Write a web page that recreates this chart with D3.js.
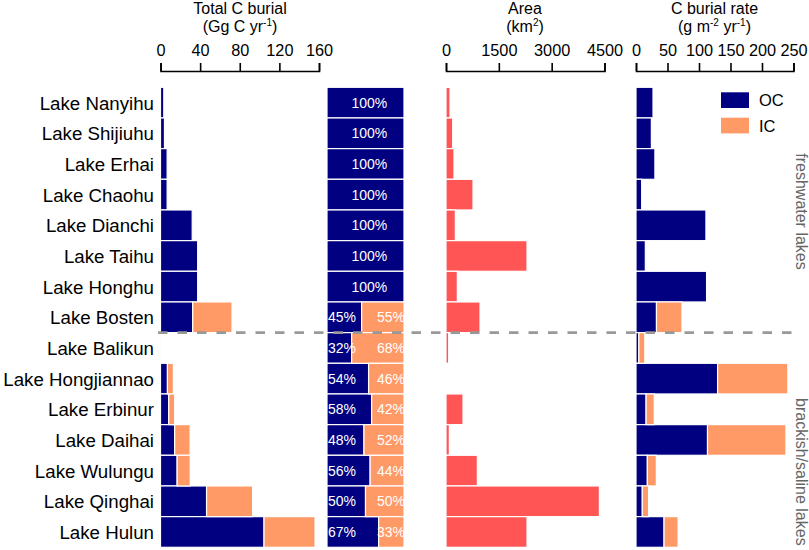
<!DOCTYPE html>
<html><head><meta charset="utf-8">
<script src="https://cdn.jsdelivr.net/npm/d3@7"></script>
<style>body{margin:0;background:#fff;} svg{display:block;font-family:Arial,"Liberation Sans",sans-serif;}</style>
</head><body><svg id="c" width="809" height="550"></svg>
<script>
const lakes = ["Lake Nanyihu","Lake Shijiuhu","Lake Erhai","Lake Chaohu","Lake Dianchi","Lake Taihu","Lake Honghu","Lake Bosten","Lake Balikun","Lake Hongjiannao","Lake Erbinur","Lake Daihai","Lake Wulungu","Lake Qinghai","Lake Hulun"];
const burialOC = [3.3,4,6.7,6.7,32,37.5,37.5,32.5,0.2,7,8.3,14.3,16.8,46.5,104.5];
const burialIC = [0,0,0,0,0,0,0,39.7,0.4,6,6,15.6,13.2,46.5,51.5];
const pctOC = [100,100,100,100,100,100,100,45,32,54,58,48,56,50,67];
const pctIC = [0,0,0,0,0,0,0,55,68,46,42,52,44,50,33];
const area = [114,190,227,767,265,2300,322,966,76,25,483,95,890,4355,2300];
const rateOC = [27,24.4,30,9,111,14.8,112,32.5,4.5,129.5,16,113.5,18,10,44.5];
const rateIC = [0,0,0,0,0,0,0,40.5,9.5,111.5,13,124.5,14.3,10,22.3];
const burialTicks = [0,40,80,120,160];
const areaTicks = [0,1500,3000,4500];
const rateTicks = [0,50,100,150,200,250];
const groups = ["freshwater lakes","brackish/saline lakes"];

const OC = "#000080", IC = "#FF9966", AREA = "#FF5555";
const svg = d3.select("#c");
const y = d3.scaleBand().domain(lakes).range([87.3, 547.3]).padding(0);
const xB = d3.scaleLinear().domain([0,160]).range([160.5,319]);
const xP = d3.scaleLinear().domain([0,100]).range([327,404]);
const xA = d3.scaleLinear().domain([0,4500]).range([446,604.5]);
const xR = d3.scaleLinear().domain([0,250]).range([636,793.5]);

function axis(scale, ticks){
  const g = svg.append("g").attr("transform","translate(0,71)")
    .call(d3.axisTop(scale).tickValues(ticks).tickSize(8).tickSizeOuter(8).tickPadding(7).tickFormat(d3.format("d")));
  g.select(".domain").attr("stroke","#000").attr("stroke-width",1.6);
  g.selectAll(".tick line").attr("stroke","#000").attr("stroke-width",1.6);
  g.selectAll(".tick text").attr("font-size",16.3).attr("fill","#000").attr("font-family","Arial, 'Liberation Sans', sans-serif");
}
axis(xB, burialTicks); axis(xA, areaTicks); axis(xR, rateTicks);

function title(x, l1, l2parts){
  svg.append("text").attr("x",x).attr("y",13.5).attr("text-anchor","middle").attr("font-size",16).text(l1);
  const t = svg.append("text").attr("x",x).attr("y",31.5).attr("text-anchor","middle").attr("font-size",16);
  l2parts.forEach(p=>{
    const s = t.append("tspan").text(p[0]);
    if(p[1]) s.attr("font-size",10).attr("dy",-6); else if(p[2]) s.attr("dy",6);
  });
}
title(240,"Total C burial",[["(Gg C yr"],["-1",true],[")",false,true]]);
title(525,"Area",[["(km"],["2",true],[")",false,true]]);
title(714.5,"C burial rate",[["(g m"],["-2",true],[" yr",false,true],["-1",true],[")",false,true]]);

const rows = lakes.map((l,i)=>({l,i}));
function stacked(xs, a, b){
  const g = svg.append("g");
  g.selectAll("rect.oc").data(rows).join("rect")
    .attr("x",xs(0)).attr("y",d=>y(d.l)).attr("width",d=>xs(a[d.i])-xs(0)).attr("height",y.bandwidth())
    .attr("fill",OC).attr("stroke","#fff").attr("stroke-width",1.2);
  g.selectAll("rect.ic").data(rows.filter(d=>b[d.i]>0)).join("rect")
    .attr("x",d=>xs(a[d.i])).attr("y",d=>y(d.l)).attr("width",d=>xs(a[d.i]+b[d.i])-xs(a[d.i])).attr("height",y.bandwidth())
    .attr("fill",IC).attr("stroke","#fff").attr("stroke-width",1.2);
}
stacked(xB, burialOC, burialIC);
stacked(xP, pctOC, pctIC);
stacked(xR, rateOC, rateIC);

svg.append("g").selectAll("rect").data(rows).join("rect")
  .attr("x",xA(0)).attr("y",d=>y(d.l)).attr("width",d=>xA(area[d.i])-xA(0)).attr("height",y.bandwidth())
  .attr("fill",AREA).attr("stroke","#fff").attr("stroke-width",1.2);

// percentage labels
const pl = svg.append("g").attr("fill","#fff").attr("font-size",14);
rows.forEach(d=>{
  const cy = y(d.l)+y.bandwidth()/2+5;
  if(pctIC[d.i]===0){
    pl.append("text").attr("x",xP(55)).attr("y",cy).attr("text-anchor","middle").text(pctOC[d.i]+"%");
  } else {
    pl.append("text").attr("x",xP(0)+1).attr("y",cy).attr("text-anchor","start").text(pctOC[d.i]+"%");
    pl.append("text").attr("x",xP(100)+1).attr("y",cy).attr("text-anchor","end").text(pctIC[d.i]+"%");
  }
});

// lake labels
svg.append("g").selectAll("text").data(rows).join("text")
  .attr("x",154).attr("y",d=>y(d.l)+y.bandwidth()/2+7).attr("text-anchor","end")
  .attr("font-size",18.7).attr("fill","#000").text(d=>d.l);

// dashed separator
const sepY = y("Lake Balikun");
svg.append("line").attr("x1",158).attr("x2",798).attr("y1",sepY).attr("y2",sepY)
  .attr("stroke","#999").attr("stroke-width",2.8).attr("stroke-dasharray","9.5,10");

// legend
const leg = [["OC",OC,92.3],["IC",IC,117.7]];
leg.forEach(l=>{
  svg.append("rect").attr("x",721).attr("y",l[2]).attr("width",28).attr("height",15.7).attr("fill",l[1]);
  svg.append("text").attr("x",759).attr("y",l[2]+14).attr("font-size",16.5).text(l[0]);
});

// group labels
svg.append("text").attr("transform","translate(795.5,211.5) rotate(90)").attr("text-anchor","middle")
  .attr("font-size",16).attr("fill","#666").text(groups[0]);
svg.append("text").attr("transform","translate(795.5,398) rotate(90)").attr("text-anchor","start")
  .attr("font-size",16).attr("fill","#666").text(groups[1]);
</script></body></html>
